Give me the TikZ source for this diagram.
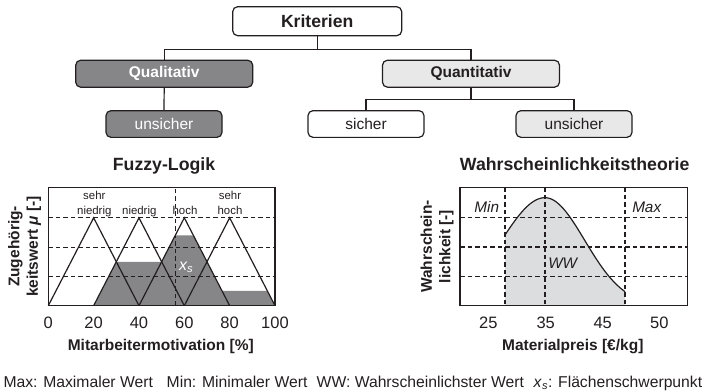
\documentclass[tikz,border=0pt]{standalone}
\usepackage{fontspec}
\setmainfont{Liberation Sans}
\usetikzlibrary{calc}

\definecolor{ink}{RGB}{35,31,32}
\definecolor{darkfill}{RGB}{134,134,136}
\definecolor{lightfill}{RGB}{232,232,233}
\definecolor{areafill}{RGB}{220,221,223}

\newcommand\fsz[2]{\fontsize{#1}{#2}\selectfont}

\begin{document}
\begin{tikzpicture}[x=1pt,y=-1pt,
  box/.style={draw=ink, line width=1.2pt, rounded corners=5pt, inner sep=0pt,
    minimum height=27pt, font=\fsz{15.5}{18}, text=ink},
  boldbox/.style={box, font=\fsz{15.5}{18}\bfseries},
  wire/.style={draw=ink, line width=1.2pt},
  gridline/.style={draw=ink, line width=1.1pt, dash pattern=on 4.5pt off 3pt},
  frameline/.style={draw=ink, line width=1.2pt, line join=miter},
  ticklabel/.style={font=\fsz{16.5}{19}, text=ink, inner sep=0pt, anchor=base},
  termlabel/.style={font=\fsz{11.4}{13}, text=ink, inner sep=0pt, anchor=base},
  title/.style={font=\fsz{17.7}{20}\bfseries, text=ink, inner sep=0pt, anchor=base},
  axistitle/.style={font=\fsz{15.5}{18}\bfseries, text=ink, inner sep=0pt, anchor=base},
  ylabel/.style={font=\fsz{15.5}{18.5}\bfseries, text=ink, inner sep=0pt,
    rotate=90, align=center},
  marklabel/.style={font=\fsz{15.3}{18}\itshape, text=ink, inner sep=0pt, anchor=base},
  notelabel/.style={font=\fsz{15.7}{18}, text=ink, inner sep=0pt, anchor=base west},
  declare function={pl(\x)=305.7-108*exp(((545-\x)*(\x-545))/3782);
                    pr(\x)=305.7-108*exp(((545-\x)*(\x-545))/3140);}
]
\useasboundingbox (0,0) rectangle (707,391);

% ---------- criteria tree ----------
\node[box, minimum width=169pt, minimum height=29pt, font=\fsz{17.6}{20}\bfseries]
  (krit) at (317.2,21.2) {Kriterien};
\node[boldbox, fill=darkfill, text=white, minimum width=177pt] (qual) at (164.2,73.7) {Qualitativ};
\node[boldbox, fill=lightfill, minimum width=177pt] (quant) at (471,73.7) {Quantitativ};
\node[box, fill=darkfill, text=white, minimum width=116pt, minimum height=26.7pt]
  (unsA) at (164,124) {unsicher};
\node[box, fill=white, minimum width=116pt, minimum height=26.7pt] (sich) at (366,124) {sicher};
\node[box, fill=lightfill, minimum width=116pt, minimum height=26.7pt] (unsB) at (574,124) {unsicher};

\draw[wire] (krit.south) -- ++(0,13.3) -| (qual.north);
\draw[wire] (krit.south) -- ++(0,13.3) -| (quant.north);
\draw[wire] (qual.south) -- (unsA.north);
\draw[wire] (quant.south) -- ++(0,11.7) -| (sich.north);
\draw[wire] (quant.south) -- ++(0,11.7) -| (unsB.north);

% ---------- fuzzy logic chart ----------
\node[title] (tfuzzy) at (164,170.7) {Fuzzy-Logik};
\begin{scope}[shift={(48.3,305.7)}, x=2.267pt, y=29.3pt]
  \fill[darkfill] (20,0) -- (30,1.5) -- (50,1.5) -- (56,2.4) -- (64,2.4)
    -- (76.6,0.51) -- (96.6,0.51) -- (100,0) -- cycle;
  \foreach \p in {20,40,60,80}
    \draw[frameline] (\p-20,0) -- (\p,3) -- (\p+20,0);
  \foreach \h in {1,2,3}
    \draw[gridline] (0,\h) -- (100,\h);
  \draw[gridline] (56,0) -- (56,4.04);
  \draw[frameline] (0,0) rectangle (100,4.04);
\end{scope}
\node[termlabel] (tA1) at (94.3,199.3) {sehr};
\node[termlabel] (tA2) at (94.3,214.3) {niedrig};
\node[termlabel] (tB) at (139.3,214.3) {niedrig};
\node[termlabel] (tC) at (185,214.3) {hoch};
\node[termlabel] (tD1) at (230,199.3) {sehr};
\node[termlabel] (tD2) at (230,214.3) {hoch};
\node[font=\fsz{16}{18}\itshape, text=white, inner sep=0pt, anchor=base west]
  (xs) at (179,270) {x\textsubscript{s}};
\foreach \v/\px in {0/48.3,20/93.6,40/139,60/184.3,80/229.6,100/275}
  \node[ticklabel] (fx\v) at (\px,328.3) {\v};
\node[ylabel] (yfuzzy) at (24.6,246.5) {Zugehörig-\\keitswert \textit{μ} [-]};
\node[axistitle] (xfuzzy) at (160.8,350) {Mitarbeitermotivation [\%]};

% ---------- probability chart ----------
\node[title] (tprob) at (574.7,170.7) {Wahrscheinlichkeitstheorie};
\fill[areafill] (505,305.7) -- plot[domain=505:545, samples=25] (\x,{pl(\x)})
  -- plot[domain=545:625, samples=40] (\x,{pr(\x)}) -- (625,305.7) -- cycle;
\foreach \yy in {217.7,247.0,276.4}
  \draw[gridline] (460,\yy) -- (687.3,\yy);
\foreach \xx in {505,545,625}
  \draw[gridline] (\xx,187.3) -- (\xx,305.7);
\draw[frameline, line join=round] plot[domain=505:545, samples=25] (\x,{pl(\x)})
  -- plot[domain=545:625, samples=40] (\x,{pr(\x)});
\draw[frameline] (460,187.3) rectangle (687.3,305.7);
\node[marklabel] (mmin) at (486.7,212.3) {Min};
\node[marklabel] (mmax) at (646.7,212.3) {Max};
\node[marklabel] (mww) at (562.7,268.3) {WW};
\foreach \v/\px in {25/488.3,35/545.7,45/602.7,50/659.3}
  \node[ticklabel] (px\v) at (\px,328.3) {\v};
\node[ylabel] (yprob) at (437,246.5) {Wahrschein-\\lichkeit [-]};
\node[axistitle] (xprob) at (572.8,350) {Materialpreis [€/kg]};

% ---------- legend line ----------
\node[notelabel] (n1) at (3.3,387.3) {Max: Maximaler Wert};
\node[notelabel] (n2) at (166.5,387.3) {Min: Minimaler Wert};
\node[notelabel] (n3) at (316.5,387.3) {WW: Wahrscheinlichster Wert};
\node[notelabel] (n4) at (533.5,387.3) {\textit{x}\textsubscript{\textit{s}}: Flächenschwerpunkt};
\end{tikzpicture}
\end{document}
